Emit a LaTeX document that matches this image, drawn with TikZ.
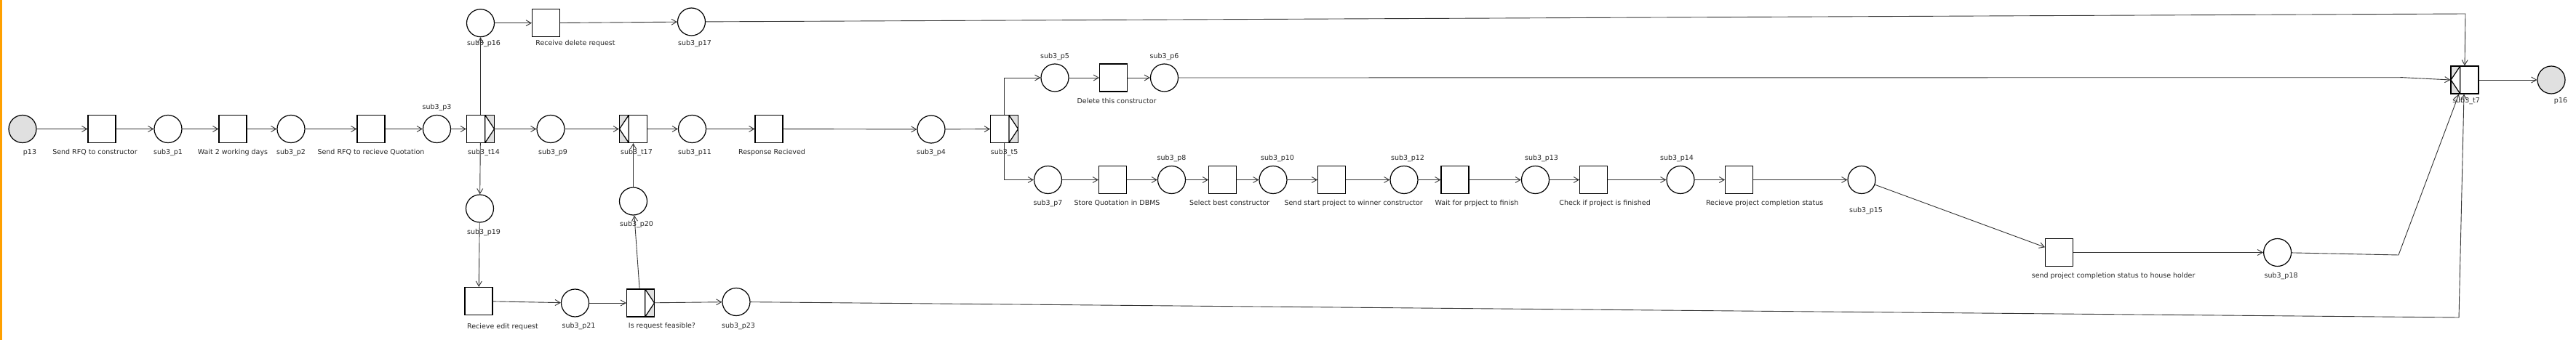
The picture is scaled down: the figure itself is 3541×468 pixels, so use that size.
\documentclass[tikz,border=0pt]{standalone}
\usepackage{fontspec}
\setmainfont{DejaVu Sans}
\usetikzlibrary{arrows.meta}
\definecolor{tokgray}{RGB}{224,224,224}
\definecolor{arcgray}{RGB}{51,51,51}
\definecolor{barorange}{RGB}{255,160,0}

\begin{document}
\begin{tikzpicture}[x=1pt, y=-1pt, >={Straight Barb[length=7pt,width=8pt]}]
		\tikzstyle{flow} = [draw=arcgray, line width=0.9pt]
		\tikzstyle{place} = [draw=black, circle, line width=1.2pt, minimum size=38pt, inner sep=0pt]
		\tikzstyle{trans} = [draw=black, rectangle, line width=1.2pt, minimum size=38pt, inner sep=0pt]
		\tikzstyle{lbl} = [font=\fontsize{9.5}{11}\selectfont, text=black!85, inner sep=0pt, text height=7pt, text depth=2pt, label distance=7.5pt]
		\tikzstyle{xsplit} = [trans, path picture={
			\fill[tokgray] ([xshift=-12.7pt]path picture bounding box.north east) rectangle (path picture bounding box.south east);
			\draw[fill=white, line width=1.2pt] ([xshift=-12.7pt]path picture bounding box.north east) -- (path picture bounding box.east) -- ([xshift=-12.7pt]path picture bounding box.south east) -- cycle;
		}]
		\tikzstyle{xjoin} = [trans, path picture={
			\fill[tokgray] (path picture bounding box.north west) rectangle ([xshift=12.7pt]path picture bounding box.south west);
			\draw[fill=white, line width=1.2pt] ([xshift=12.7pt]path picture bounding box.north west) -- (path picture bounding box.west) -- ([xshift=12.7pt]path picture bounding box.south west) -- cycle;
		}]

		\useasboundingbox (0,0) rectangle (3541,468);
		\fill[barorange] (0,0) rectangle (2.7,468);

		\begin{scope}
		\path[->, flow]
		node[place, fill=tokgray, label={[lbl, xshift=10pt]below:p13}] (pa) at (31,177.5) {}
		node[trans, label={[lbl, xshift=-9.5pt]below:Send RFQ to constructor}] (r1) at (140,177.5) {}
		node[place, label={[lbl]below:sub3\_p1}] (p1) at (231,177.5) {}
		node[trans, label={[lbl]below:Wait 2 working days}] (w1) at (320,177.5) {}
		node[place, label={[lbl]below:sub3\_p2}] (p2) at (400,177.5) {}
		node[trans, label={[lbl]below:Send RFQ to recieve Quotation}] (r2) at (510,177.5) {}
		node[place, label={[lbl, label distance=5.3pt]above:sub3\_p3}] (p3) at (600.5,177.5) {}
		node[xsplit, label={[lbl, xshift=4.5pt]below:sub3\_t14}] (t14) at (660.5,177.5) {}

		node[place, label={[lbl, xshift=4.5pt, label distance=3.5pt]below:sub3\_p16}] (p16) at (660.5,31.7) {}
		node[trans, label={[lbl, xshift=40.5pt, label distance=3.5pt]below:Receive delete request}] (dr) at (750.5,31.7) {}
		node[place, label={[lbl, xshift=4.5pt, label distance=5pt]below:sub3\_p17}] (p17) at (950.5,30) {}

		node[place, label={[lbl, xshift=3pt]below:sub3\_p9}] (p9) at (757,177.5) {}
		node[xjoin, label={[lbl, xshift=4.5pt]below:sub3\_t17}] (t17) at (870.5,177.5) {}
		node[place, label={[lbl, xshift=3.5pt]below:sub3\_p11}] (p11) at (951.5,177.5) {}
		node[trans, label={[lbl, xshift=4pt]below:Response Recieved}] (rr) at (1057,177.5) {}
		node[place, label={[lbl]below:sub3\_p4}] (p4) at (1280,178) {}
		node[xsplit, label={[lbl]below:sub3\_t5}] (t5) at (1380.6,177.5) {}

		node[place, label={[lbl, label distance=4.8pt]above:sub3\_p5}] (p5) at (1450,107) {}
		node[trans, label={[lbl, xshift=4.5pt, label distance=8.2pt]below:Delete this constructor}] (dc) at (1530.6,107) {}
		node[place, label={[lbl, label distance=4.8pt]above:sub3\_p6}] (p6) at (1600.5,107) {}

		node[place, label={[lbl]below:sub3\_p7}] (p7) at (1440.5,247.5) {}
		node[trans, label={[lbl, xshift=6pt]below:Store Quotation in DBMS}] (sq) at (1529.5,247.5) {}
		node[place, label={[lbl, label distance=5.3pt]above:sub3\_p8}] (p8) at (1610.5,247.5) {}
		node[trans, label={[lbl, xshift=9.5pt]below:Select best constructor}] (sb) at (1680.6,247.5) {}
		node[place, label={[lbl, xshift=6pt, label distance=5.3pt]above:sub3\_p10}] (p10) at (1750,247.5) {}
		node[trans, label={[lbl, xshift=30pt]below:Send start project to winner constructor}] (ss) at (1830.6,247.5) {}
		node[place, label={[lbl, xshift=5pt, label distance=5.3pt]above:sub3\_p12}] (p12) at (1930,247.5) {}
		node[trans, label={[lbl, xshift=30pt]below:Wait for prpject to finish}] (wf) at (2000,247.5) {}
		node[place, label={[lbl, xshift=8.5pt, label distance=5.3pt]above:sub3\_p13}] (p13) at (2110.5,247.5) {}
		node[trans, label={[lbl, xshift=15.5pt]below:Check if project is finished}] (cf) at (2190.6,247.5) {}
		node[place, label={[lbl, xshift=-5pt, label distance=5.3pt]above:sub3\_p14}] (p14) at (2310,247.5) {}
		node[trans, label={[lbl, xshift=35pt]below:Recieve project completion status}] (rs) at (2390.7,247.5) {}
		node[place, label={[lbl, xshift=6pt, label distance=17.7pt]below:sub3\_p15}] (p15) at (2559,247.5) {}
		node[trans, label={[lbl, xshift=74.5pt]below:send project completion status to house holder}] (sh) at (2830.6,347.5) {}
		node[place, label={[lbl, xshift=5pt]below:sub3\_p18}] (p18) at (3130.6,347.5) {}
		node[xjoin, label={[lbl, xshift=2pt, label distance=4.5pt]below:sub3\_t7}] (t7) at (3388,110) {}
		node[place, fill=tokgray, label={[lbl, xshift=13pt, label distance=4.5pt]below:p16}] (pz) at (3507,110) {}

		node[place, label={[lbl, xshift=5.5pt, label distance=8.5pt]below:sub3\_p19}] (p19) at (659.5,287) {}
		node[place, label={[lbl, xshift=4.5pt]below:sub3\_p20}] (p20) at (870.5,277) {}
		node[trans, label={[lbl, xshift=33pt, label distance=11pt]below:Recieve edit request}] (re) at (658,414.5) {}
		node[place, label={[lbl, xshift=5pt]below:sub3\_p21}] (p21) at (790.5,417) {}
		node[xsplit, label={[lbl, xshift=29.5pt]below:Is request feasible?}] (rf) at (880.5,417) {}
		node[place, label={[lbl, xshift=3pt, label distance=9pt]below:sub3\_p23}] (p23) at (1012,415.5) {}

		(pa) edge (r1)
		(r1) edge (p1)
		(p1) edge (w1)
		(w1) edge (p2)
		(p2) edge (r2)
		(r2) edge (p3)
		(p3) edge (t14)
		(t14) edge (p9)
		(t14) edge (p16)
		(t14) edge (p19)
		(p16) edge (dr)
		(dr) edge (p17)
		(p9) edge (t17)
		(p20) edge (t17)
		(t17) edge (p11)
		(p11) edge (rr)
		(rr) edge (p4)
		(p4) edge (t5)
		(p5) edge (dc)
		(dc) edge (p6)
		(p7) edge (sq)
		(sq) edge (p8)
		(p8) edge (sb)
		(sb) edge (p10)
		(p10) edge (ss)
		(ss) edge (p12)
		(p12) edge (wf)
		(wf) edge (p13)
		(p13) edge (cf)
		(cf) edge (p14)
		(p14) edge (rs)
		(rs) edge (p15)
		(p15) edge (sh)
		(sh) edge (p18)
		(t7) edge (pz)
		(p19) edge (re)
		(re) edge (p21)
		(p21) edge (rf)
		(rf) edge (p23)
		(rf) edge (p20)
		;

		\coordinate (k17) at (3389,19);
		\coordinate (k6) at (3303,106.7);
		\coordinate (k18) at (3297,351);
		\coordinate (k23) at (3380,437);

		\draw[->, flow] (t5.north) |- (p5);
		\draw[->, flow] (t5.south) |- (p7);
		\draw[->, flow] (p17) -- (k17) -- (t7.north);
		\draw[->, flow] (p6) -- (k6) -- (t7.west);
		\draw[->, flow] (p18) -- (k18) -- ([xshift=-8pt]t7.south);
		\draw[->, flow] (p23) -- (k23) -- ([xshift=-1pt]t7.south);
		\end{scope}
		\end{tikzpicture}
\end{document}
